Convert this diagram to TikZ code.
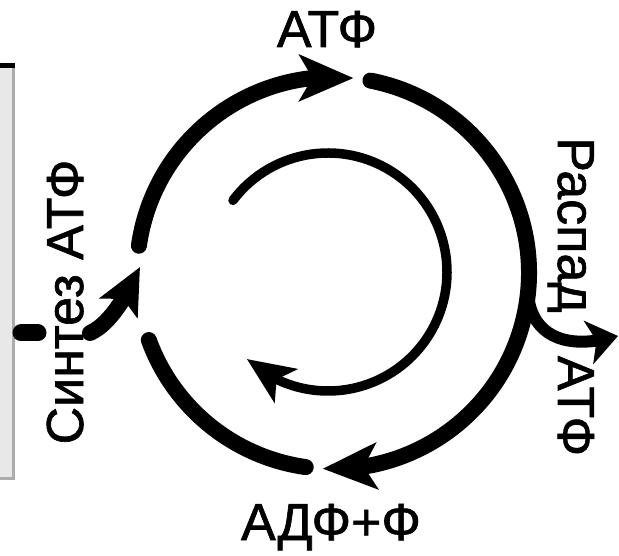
\documentclass[tikz,border=0pt]{standalone}
\usepackage{fontspec}
\setmainfont{Liberation Sans}[FakeBold=1.2]
\usetikzlibrary{arrows.meta,bending}
\begin{document}
\begin{tikzpicture}[x=1pt,y=1pt,
  thickline/.style={line width=16pt, line cap=round},
  thinline/.style={line width=9.5pt, line cap=round},
  bighead/.style={-{Stealth[length=54pt,width=46pt,inset=13pt,flex]}},
  innerhead/.style={-{Stealth[length=47pt,width=40pt,inset=11pt,flex]}},
  lbl/.style={font=\fontsize{52}{52}\selectfont, inner sep=0pt}]
\useasboundingbox (0,0) rectangle (619,555);
\coordinate (C) at (333,282);
\coordinate (Ci) at (328,283);
% membrane bar
\fill[gray!18] (-10,75) rectangle (14,489);
\draw[gray!65, line width=3pt] (-10,76.5) -- (13.5,76.5) -- (13.5,489);
\draw[black, line width=5pt] (-10,489) -- (15,489);
% outer cycle
\coordinate (a1) at ([shift={(172:196)}]C);
\coordinate (a2) at ([shift={(79:196)}]C);
\coordinate (a3) at ([shift={(262:196)}]C);
\draw[thickline, bighead] (a1) arc[start angle=172, end angle=84, radius=196];
\draw[thickline, bighead] (a2) arc[start angle=79, end angle=-93, radius=196];
\draw[thickline] (a3) arc[start angle=262, end angle=200, radius=196];
% inner cycle
\coordinate (i1) at ([shift={(143:119)}]Ci);
\draw[thinline, innerhead] (i1) arc[start angle=143, end angle=-133, radius=119];
% branch (Распад)
\coordinate (b0) at ([shift={(-6:196)}]C);
\coordinate (b1) at (618,219);
\draw[line width=12pt, -{Stealth[length=30pt,width=44pt,inset=8pt]}] (b0) .. controls (531,222) and (562,203) .. (b1);
% synthesis
\coordinate (s0) at (21,222);
\coordinate (s1) at (38,222);
\coordinate (s2) at (90,222);
\coordinate (s3) at (140,288);
\draw[line width=17pt, line cap=round] (s0) -- (s1);
\draw[line width=16pt, line cap=round, -{Stealth[length=46pt,width=42pt,inset=10pt]}] (s2) .. controls (108,230) and (125,255) .. (s3);
% labels
\node[lbl, anchor=base] (atf) at (327,508) {АТФ};
\node[lbl, anchor=base] (adf) at (331,15) {АДФ+Ф};
\node[lbl, rotate=90, anchor=base] (syn) at (83,253) {Синтез АТФ};
\node[lbl, rotate=-90, anchor=base] (rasp) at (558,330) {Распад};
\node[lbl, rotate=-90, anchor=base] (atf2) at (558,149) {АТФ};
\end{tikzpicture}
\end{document}
